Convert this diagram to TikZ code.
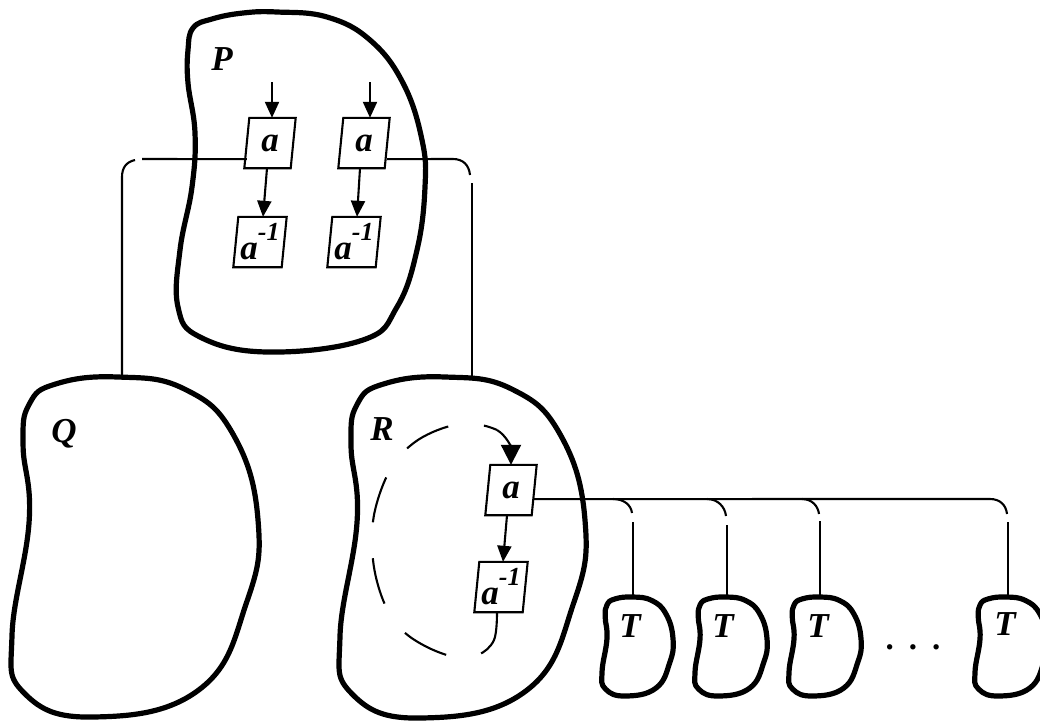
\documentclass[tikz,border=0pt]{standalone}
\usepackage{fontspec}
\setmainfont{Liberation Serif}
\usetikzlibrary{arrows.meta,calc}
\tikzset{
  blob/.style={line width=5.2pt, line join=round},
  conn/.style={line width=2.1pt},
  boxnode/.style={inner sep=0pt, minimum width=46pt, minimum height=50pt, font=\bfseries\itshape\fontsize{35}{38}\selectfont},
  lbl/.style={inner sep=0pt, anchor=base, font=\bfseries\itshape\fontsize{35}{38}\selectfont},
  arr/.style={conn, -{Triangle[length=16pt,width=14pt]}},
  bigarr/.style={conn, -{Triangle[length=20pt,width=20pt]}},
  boxline/.style={line width=2.1pt, line join=miter},
  loopdash/.style={line width=2.1pt, dash pattern=on 47pt off 36pt},
}
\newcommand\slbox[1]{\draw[boxline] ([xshift=2.5pt]#1.north west) -- ([xshift=2.5pt]#1.north east) -- ([xshift=-2.5pt]#1.south east) -- ([xshift=-2.5pt]#1.south west) -- cycle;}
\newcommand\myinv{a\raisebox{19pt}{\fontsize{26}{26}\selectfont -1}}
\newcommand\bean[4]{\begin{scope}[shift={(#1,#2)},x=#3pt,y=-#4pt]
  \draw[blob] plot[smooth cycle,tension=0.75] coordinates {(0.43,0) (0.70,0.035) (0.90,0.17) (1.0,0.42) (0.955,0.66) (0.76,0.92) (0.33,1.0) (0.05,0.93) (0,0.76) (0.07,0.42) (0.045,0.2) (0.07,0.08) (0.18,0.02)};
\end{scope}}
\begin{document}
\begin{tikzpicture}[x=1pt,y=-1pt]
\useasboundingbox (0,0) rectangle (1040,721);
% blobs
\draw[blob] plot[smooth cycle, tension=0.7] coordinates {(188,50) (193,28) (212,19) (243,13) (277,12) (327,17) (370,40) (403,83) (422,140) (425,187) (417,250) (397,307) (363,340) (267,352) (200,337) (178,307) (180,250) (192,187) (195,133) (188,83)};
\bean{12}{377}{246}{340}
\bean{340}{377}{245}{341}
\bean{602}{597}{71}{99}
\bean{695}{597}{72}{99}
\bean{789}{597}{72}{99}
\bean{975}{597}{72}{99}
% labels
\node[lbl] (lP) at (222,70) {P};
\node[lbl] (lQ) at (64,442) {Q};
\node[lbl] (lR) at (382,440) {R};
\node[lbl] (lT1) at (630,637) {T};
\node[lbl] (lT2) at (723,637) {T};
\node[lbl] (lT3) at (818,637) {T};
\node[lbl] (lT4) at (1005,635) {T};
\node[inner sep=0pt, anchor=base, font=\bfseries\fontsize{33}{36}\selectfont] (dots) at (913,649) {.\hspace{15pt}.\hspace{15pt}.};
% boxes
\node[boxnode] (Pa1) at (270,143) {a};
\node[boxnode] (Pa2) at (364,143) {a};
\node[boxnode, minimum width=48pt] (Pi1) at (260,242) {\myinv};
\node[boxnode, minimum width=48pt] (Pi2) at (354,242) {\myinv};
\node[boxnode] (Ra) at (511,490) {a};
\node[boxnode, minimum width=48pt] (Ri) at (501,587) {\myinv};
\slbox{Pa1}\slbox{Pa2}\slbox{Pi1}\slbox{Pi2}\slbox{Ra}\slbox{Ri}
% coordinates
\coordinate (in1) at (272,82);
\coordinate (in2) at (370,82);
\coordinate (qtop) at (122,379);
\coordinate (rtop) at (472,379);
\coordinate (t1top) at (633,598);
\coordinate (t2top) at (727,598);
\coordinate (t3top) at (820,598);
\coordinate (t4top) at (1008,598);
% arrows
\draw[arr] (in1) -- (in1 |- Pa1.north);
\draw[arr] (in2) -- (in2 |- Pa2.north);
\draw[arr] ([xshift=-3pt]Pa1.south) -- ([xshift=3pt]Pi1.north);
\draw[arr] ([xshift=-4pt]Pa2.south) -- ([xshift=3pt]Pi2.north);
\draw[arr] ([xshift=-4pt]Ra.south) -- ([xshift=2pt]Ri.north);
% connectors P -> Q, R
\draw[conn] ($(Pa1.south west)!0.18!(Pa1.north west)$) -- (142,159);
\draw[conn] (135,160) .. controls (126,162) and (122,168) .. (122,177) -- (qtop);
\draw[conn] ($(Pa2.south east)!0.18!(Pa2.north east)$) -- (453,159) .. controls (463,159) and (469,165) .. (470,175);
\draw[conn] (472,183) -- (rtop);
% connectors R -> T
\draw[conn] ($(Ra.south east)!0.32!(Ra.north east)$) -- (990,499) .. controls (1000,499) and (1006,505) .. (1007,514);
\draw[conn] (1008,522) -- (t4top);
\draw[conn] (613,499) .. controls (624,499) and (631,505) .. (632,513);
\draw[conn] (633,522) -- (t1top);
\draw[conn] (707,499) .. controls (718,499) and (725,507) .. (726,516);
\draw[conn] (727,525) -- (t2top);
\draw[conn] (802,499) .. controls (812,499) and (818,506) .. (819,514);
\draw[conn] (820,521) -- (t3top);
% dashed loop in R
\draw[loopdash] plot[smooth, tension=0.6] coordinates {([xshift=-4pt]Ri.south) (494,640) (478,655) (455,657) (425,646) (400,628) (383,600) (373,560) (374,515) (390,470) (415,442) (450,426) (480,425) (497,430)};
\draw[bigarr] (497,430) .. controls (507,436) and (511,448) .. (Ra.north);
\end{tikzpicture}
\end{document}
